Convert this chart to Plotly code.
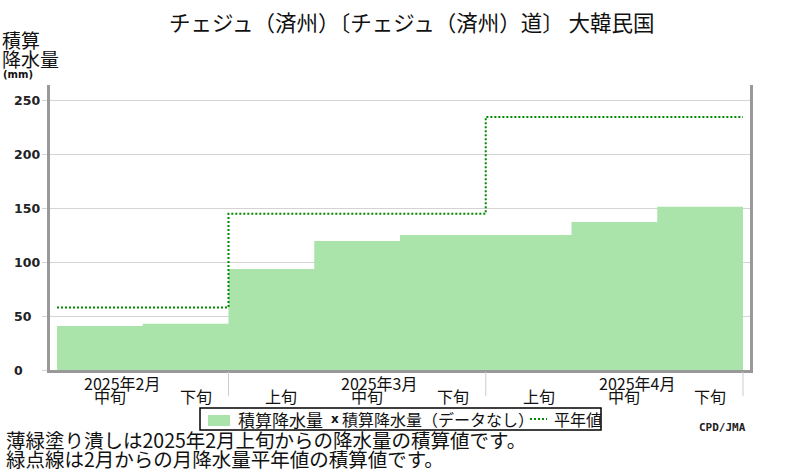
import plotly.graph_objects as go

# ---- data ----
title_text = "チェジュ（済州）〔チェジュ（済州）道〕 大韓民国"
dekad_labels = ["中旬", "下旬", "上旬", "中旬", "下旬", "上旬", "中旬", "下旬"]
month_labels = ["2025年2月", "2025年3月", "2025年4月"]
month_dekads = [2, 3, 3]          # dekads shown per month
cum_precip = [40.9, 43.0, 93.8, 119.8, 125.3, 125.3, 137.5, 151.5]
normal_cum = [58, 145, 235]       # cumulative monthly normals (Feb, Mar, Apr)
y_ticks = [0, 50, 100, 150, 200, 250]

W, H = 800, 470
L, R, T, B = 50, 750, 85, 370   # plot area in pixels

def px(x):
    return (x - L) / (R - L)

def py(y):
    return (B - y) / (B - T)

n = len(cum_precip)
xs = list(range(n + 1))
ys = cum_precip + [cum_precip[-1]]

normal_dek = []
for v, k in zip(normal_cum, month_dekads):
    normal_dek += [v] * k
nys = normal_dek + [normal_dek[-1]]

fig = go.Figure()
fig.add_trace(go.Scatter(
    x=xs, y=ys, mode="lines", line_shape="hv", fill="tozeroy",
    fillcolor="#abe4ab", line=dict(width=0, color="rgba(0,0,0,0)"),
    hoverinfo="skip", showlegend=False))
fig.add_trace(go.Scatter(
    x=xs, y=nys, mode="lines", line_shape="hv",
    line=dict(color="#008a00", width=2, dash="2px,2px"),
    hoverinfo="skip", showlegend=False))

pad = 7 / 85.75
fig.update_layout(
    width=W, height=H,
    margin=dict(l=L, r=W - R, t=T, b=H - B),
    paper_bgcolor="white", plot_bgcolor="white",
    showlegend=False,
    xaxis=dict(range=[-pad, n + pad], showgrid=False, zeroline=False,
               showticklabels=False, ticks="", showline=True,
               linecolor="#999999", linewidth=3, fixedrange=True),
    yaxis=dict(range=[0, (B - T) / 1.077], tickvals=y_ticks, showticklabels=False,
               showgrid=True, gridcolor="#d4d4d4", gridwidth=1,
               ticks="outside", ticklen=5, tickcolor="#d4d4d4",
               zeroline=False, showline=True, mirror=True,
               linecolor="#999999", linewidth=3, fixedrange=True),
    font=dict(family="Noto Sans CJK JP", color="#000000"),
)

ann = []
# title
ann.append(dict(x=px(412), y=py(22), xref="paper", yref="paper", text=title_text,
                showarrow=False, xanchor="center", yanchor="middle",
                font=dict(size=21.5, family="Noto Sans CJK JP", color="#111")))
# y-axis title
for i, t in enumerate(["積算", "降水量"]):
    ann.append(dict(x=px(0), y=py(40 + 19 * i), xref="paper", yref="paper", text=t,
                    showarrow=False, xanchor="left", yanchor="middle",
                    font=dict(size=19, family="Noto Sans CJK JP", color="#111")))
ann.append(dict(x=px(1), y=py(74), xref="paper", yref="paper", text="<b>(mm)</b>",
                showarrow=False, xanchor="left", yanchor="middle",
                font=dict(size=10, family="DejaVu Sans", color="#111")))
# y tick labels (left aligned)
for v in y_ticks:
    ann.append(dict(x=px(12), y=v, xref="paper", yref="y", text=f"<b>{v}</b>",
                    showarrow=False, xanchor="left", yanchor="middle",
                    font=dict(size=12.5, family="DejaVu Sans", color="#222")))
# dekad labels
for i, t in enumerate(dekad_labels):
    ann.append(dict(x=i + 0.5, y=py(396), xref="x", yref="paper", text=t,
                    showarrow=False, xanchor="center", yanchor="middle", xshift=10,
                    font=dict(size=16, family="Noto Sans CJK JP", color="#111")))
# month labels + separators
start = 0
shapes = []
for m, k in zip(month_labels, month_dekads):
    mid = start + k - 2   # start of the month's middle dekad
    ann.append(dict(x=mid, y=py(383), xref="x", yref="paper", text=m,
                    showarrow=False, xanchor="left", yanchor="middle", xshift=25,
                    font=dict(size=16, family="Noto Sans CJK JP", color="#111")))
    start += k
    shapes.append(dict(type="line", x0=start, x1=start, y0=py(372), y1=py(396),
                       xref="x", yref="paper", line=dict(color="#cccccc", width=1)))

# legend (manual)
shapes.append(dict(type="rect", x0=px(200), x1=px(601), y0=py(408), y1=py(430),
                   xref="paper", yref="paper", line=dict(color="#000", width=1.5),
                   fillcolor="white"))
shapes.append(dict(type="rect", x0=px(208), x1=px(230), y0=py(415), y1=py(426),
                   xref="paper", yref="paper", line=dict(width=0), fillcolor="#abe4ab"))
shapes.append(dict(type="line", x0=px(530), x1=px(547), y0=py(419), y1=py(419),
                   xref="paper", yref="paper",
                   line=dict(color="#008a00", width=2, dash="2px,2px")))
leg_items = [(236, "積算降水量", "Noto Sans CJK JP", 17),
             (329, "<b>x</b>", "DejaVu Sans", 12),
             (340, "積算降水量（データなし）", "Noto Sans CJK JP", 16),
             (552, "平年値", "Noto Sans CJK JP", 16)]
for x0, t, f, s in leg_items:
    ann.append(dict(x=px(x0), y=py(419), xref="paper", yref="paper", text=t,
                    showarrow=False, xanchor="left", yanchor="middle",
                    font=dict(size=s, family=f, color="#111")))
# source
ann.append(dict(x=px(748), y=py(427), xref="paper", yref="paper", text="<b>CPD/JMA</b>",
                showarrow=False, xanchor="right", yanchor="middle",
                font=dict(size=11, family="DejaVu Sans Mono", color="#222")))
# footnotes
notes = ["薄緑塗り潰しは2025年2月上旬からの降水量の積算値です。",
         "緑点線は2月からの月降水量平年値の積算値です。"]
for i, t in enumerate(notes):
    ann.append(dict(x=px(4), y=py(440 + 18 * i), xref="paper", yref="paper", text=t,
                    showarrow=False, xanchor="left", yanchor="middle",
                    font=dict(size=19.5, family="Noto Sans CJK JP", color="#111")))

fig.update_layout(annotations=ann, shapes=shapes)
fig.write_html("out.html", config={"displayModeBar": False},
               post_script="document.body.style.margin='0px';document.body.style.overflow='hidden';")
